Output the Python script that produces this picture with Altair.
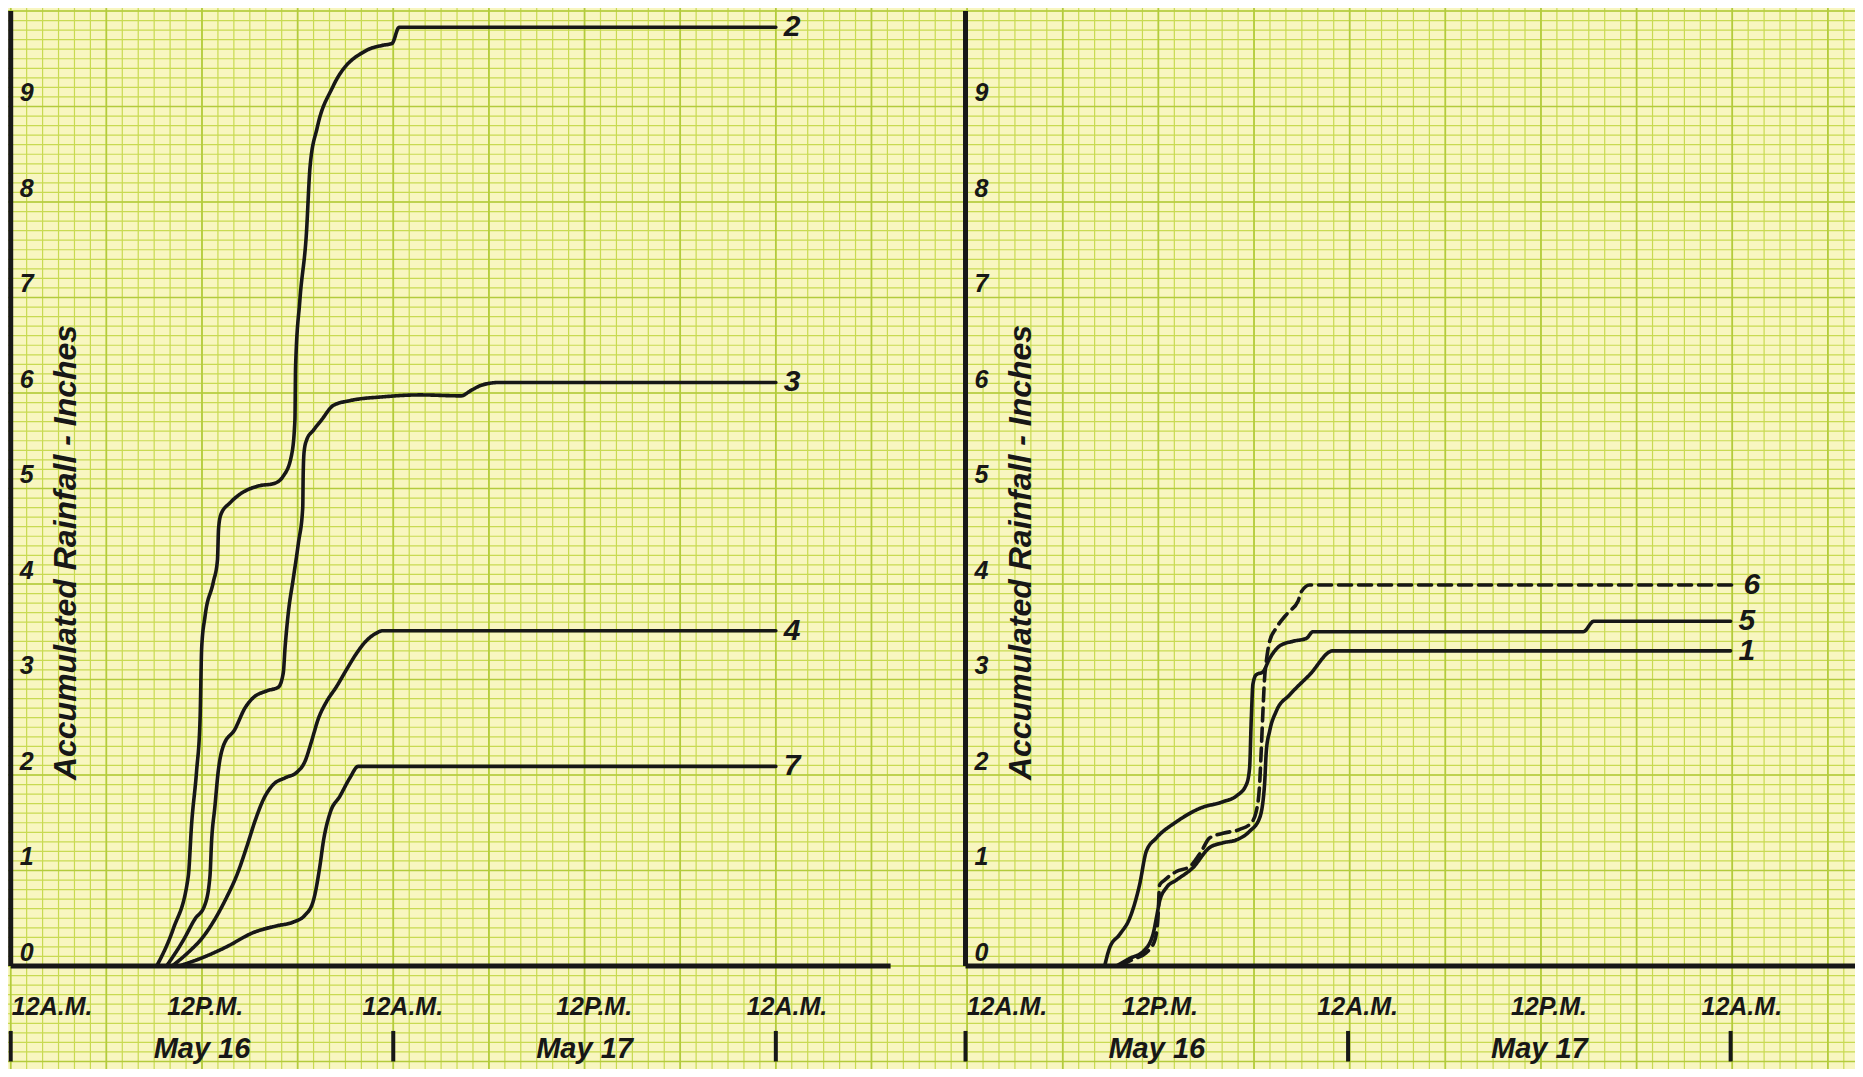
import altair as alt
import pandas as pd

# ---------------- data (hours after 12 A.M. May 16, accumulated rainfall in inches) ----------------
# left graph
s2_h = [9.16, 10.20, 11.14, 11.35, 11.66, 11.88, 11.98, 12.19, 12.71, 12.97, 13.04, 13.19, 13.76, 14.38, 15.64,
        16.48, 17.10, 17.62, 17.83, 17.87, 18.14, 18.55, 18.78, 19.23, 20.19, 22.35, 23.32, 23.92, 24.37, 48.0]
s2_v = [0.0, 0.39, 0.94, 1.49, 2.04, 2.59, 3.33, 3.66, 4.02, 4.25, 4.58, 4.73, 4.85, 4.94, 5.03,
        5.05, 5.13, 5.35, 5.72, 6.27, 6.97, 7.67, 8.37, 8.78, 9.20, 9.59, 9.64, 9.66, 9.83, 9.83]

s3_h = [9.78, 10.83, 11.55, 12.18, 12.50, 12.60, 12.81, 13.02, 13.33, 14.07, 14.69, 15.22, 16.05, 16.79, 17.10,
        17.21, 17.41, 17.73, 18.05, 18.32, 18.35, 18.41, 18.57, 18.99, 19.51, 20.24, 21.28, 23.37, 25.67, 28.24,
        28.91, 29.51, 30.63, 48.0]
s3_v = [0.0, 0.27, 0.49, 0.64, 0.94, 1.30, 1.67, 2.04, 2.30, 2.48, 2.70, 2.81, 2.88, 2.92, 3.07,
        3.33, 3.69, 4.06, 4.43, 4.80, 5.16, 5.39, 5.51, 5.61, 5.72, 5.87, 5.92, 5.96, 5.98, 5.97,
        6.03, 6.08, 6.11, 6.11]

s4_h = [10.13, 11.25, 12.0, 12.74, 13.49, 14.23, 14.83, 15.35, 15.87, 16.47, 17.21, 17.96, 18.48, 18.85, 19.30,
        19.82, 20.42, 21.09, 21.68, 22.28, 22.88, 23.32, 48.0]
s4_v = [0.0, 0.16, 0.29, 0.47, 0.70, 0.97, 1.26, 1.53, 1.75, 1.90, 1.97, 2.03, 2.15, 2.34, 2.59,
        2.77, 2.92, 3.11, 3.27, 3.40, 3.48, 3.51, 3.51]

s7_h = [10.58, 12.07, 13.53, 15.22, 16.68, 17.73, 18.45, 18.98, 19.40, 19.61, 20.03, 20.66, 21.28, 21.80, 48.0]
s7_v = [0.0, 0.09, 0.20, 0.35, 0.42, 0.46, 0.53, 0.68, 1.05, 1.30, 1.60, 1.78, 1.97, 2.09, 2.09]

# right graph
s5_h = [8.73, 9.04, 9.67, 10.30, 10.92, 11.34, 11.97, 13.23, 14.69, 16.15, 16.99, 17.62, 17.82, 17.93, 18.03,
        18.24, 18.66, 19.08, 19.70, 20.54, 21.38, 21.80, 38.75, 39.42, 48.0]
s5_v = [0.0, 0.19, 0.33, 0.50, 0.85, 1.20, 1.34, 1.51, 1.65, 1.72, 1.78, 1.90, 2.07, 2.60, 2.95,
        3.05, 3.08, 3.22, 3.35, 3.40, 3.43, 3.50, 3.50, 3.61, 3.61]

s1_h = [9.46, 10.30, 11.13, 11.76, 11.97, 12.18, 12.60, 13.23, 14.27, 15.31, 16.15, 16.99, 17.82, 18.45, 18.76,
        18.87, 19.08, 19.50, 20.34, 21.59, 23.05, 48.0]
s1_v = [0.0, 0.08, 0.15, 0.33, 0.50, 0.68, 0.82, 0.90, 1.03, 1.24, 1.29, 1.32, 1.41, 1.55, 1.90,
        2.25, 2.46, 2.67, 2.84, 3.05, 3.30, 3.30]

s6_h = [9.67, 10.51, 11.34, 11.86, 12.07, 12.18, 12.49, 13.23, 14.06, 14.79, 15.31, 16.15, 17.20, 17.93, 18.24,
        18.45, 18.55, 18.66, 18.76, 18.87, 19.08, 19.50, 20.23, 20.86, 21.07, 21.59, 48.3]
s6_v = [0.0, 0.07, 0.14, 0.26, 0.50, 0.85, 0.90, 0.99, 1.04, 1.20, 1.34, 1.39, 1.43, 1.50, 1.62,
        1.90, 2.25, 2.67, 3.01, 3.19, 3.40, 3.54, 3.70, 3.82, 3.92, 3.99, 3.99]

series_names = ["2", "3", "4", "7", "5", "1", "6"]
series_panels = ["left", "left", "left", "left", "right", "right", "right"]
series_styles = ["solid", "solid", "solid", "solid", "solid", "solid", "dashed"]
series_hours = [s2_h, s3_h, s4_h, s7_h, s5_h, s1_h, s6_h]
series_values = [s2_v, s3_v, s4_v, s7_v, s5_v, s1_v, s6_v]

y_tick_values = [0, 1, 2, 3, 4, 5, 6, 7, 8, 9]
time_labels = ["12A.M.", "12P.M.", "12A.M.", "12P.M.", "12A.M."]
time_label_hours = [2.6, 12.2, 24.6, 36.6, 48.7]
day_labels = ["May 16", "May 17"]
day_label_hours = [12, 36]
day_tick_hours = [0, 24, 48]
y_title = "Accumulated Rainfall - Inches"

# ---------------- layout ----------------
W, H = 1847, 1061
PX_H = 15.94      # px per hour
PX_IN = 95.5      # px per inch
X_MIN = -0.17
Y_TOP = 958 / PX_IN
x_dom = [X_MIN, X_MIN + W / PX_H]
y_dom = [Y_TOP - H / PX_IN, Y_TOP]
OFFSET = {"left": 0.0, "right": 59.9}
AXIS_END = {"left": 55.2, "right": 70.0}

PAPER = "#f8f6c0"
GRID_MINOR = "#c8da52"
GRID_MAJOR = "#b3cb3c"
INK = "#171717"
FONT = "Liberation Sans, Arial, sans-serif"

xs = alt.Scale(domain=x_dom, nice=False, zero=False)
ys = alt.Scale(domain=y_dom, nice=False, zero=False)
X = lambda f: alt.X(f, scale=xs, axis=None)
Y = lambda f: alt.Y(f, scale=ys, axis=None)

# ---------------- tables ----------------
rows = []
for name, panel, style, hs, vs in zip(series_names, series_panels, series_styles, series_hours, series_values):
    for i, (h, v) in enumerate(zip(hs, vs)):
        rows.append({"series": name, "panel": panel, "dash": style, "order": i,
                     "x": h + OFFSET[panel], "inches": v})
curves = pd.DataFrame(rows)

grid_v_minor = pd.DataFrame({"x": list(range(0, 117))})
grid_v_major = pd.DataFrame({"x": list(range(0, 117, 6))})
grid_h_minor = pd.DataFrame({"y": [i / 10 for i in range(-11, 102)]})
grid_h_major = pd.DataFrame({"y": list(range(-1, 11))})

panels = ["left", "right"]
yaxis_df = pd.DataFrame([{"x": OFFSET[p], "y": 0.0, "y2": 10.0} for p in panels])
xaxis_df = pd.DataFrame([{"x": OFFSET[p], "x2": OFFSET[p] + AXIS_END[p], "y": 0.0} for p in panels])
dtick_df = pd.DataFrame([{"x": OFFSET[p] + h, "y": -0.68, "y2": -1.0} for p in panels for h in day_tick_hours])

ytick_df = pd.DataFrame([{"x": OFFSET[p] + 1.0, "y": v + 0.14, "t": str(v)} for p in panels for v in y_tick_values])
time_df = pd.DataFrame([{"x": OFFSET[p] + h, "y": -0.43, "t": t}
                        for p in panels for h, t in zip(time_label_hours, time_labels)])
day_df = pd.DataFrame([{"x": OFFSET[p] + h, "y": -0.87, "t": t}
                       for p in panels for h, t in zip(day_label_hours, day_labels)])
title_df = pd.DataFrame([{"x": OFFSET[p] + 3.5, "y": 4.33, "t": y_title} for p in panels])
lab_rows = []
for name, panel, hs, vs in zip(series_names, series_panels, series_hours, series_values):
    lab_rows.append({"x": OFFSET[panel] + hs[-1] + 0.5, "y": vs[-1], "t": name})
lab_df = pd.DataFrame(lab_rows)

# ---------------- layers ----------------
g1 = alt.Chart(grid_v_minor).mark_rule(color=GRID_MINOR, strokeWidth=1.2).encode(x=X("x:Q"))
g2 = alt.Chart(grid_h_minor).mark_rule(color=GRID_MINOR, strokeWidth=1.2).encode(y=Y("y:Q"))
g3 = alt.Chart(grid_v_major).mark_rule(color=GRID_MAJOR, strokeWidth=1.7).encode(x=X("x:Q"))
g4 = alt.Chart(grid_h_major).mark_rule(color=GRID_MAJOR, strokeWidth=1.7).encode(y=Y("y:Q"))

ax_y = alt.Chart(yaxis_df).mark_rule(color=INK, strokeWidth=5).encode(x=X("x:Q"), y=Y("y:Q"), y2="y2:Q")
ax_x = alt.Chart(xaxis_df).mark_rule(color=INK, strokeWidth=5).encode(x=X("x:Q"), x2="x2:Q", y=Y("y:Q"))
ticks = alt.Chart(dtick_df).mark_rule(color=INK, strokeWidth=4).encode(x=X("x:Q"), y=Y("y:Q"), y2="y2:Q")

lines = alt.Chart(curves).mark_line(interpolate="monotone", color=INK, strokeWidth=3.6,
                                    strokeCap="round", strokeJoin="round").encode(
    x=X("x:Q"), y=Y("inches:Q"), detail="series:N", order="order:Q",
    strokeDash=alt.StrokeDash("dash:N", scale=alt.Scale(domain=["solid", "dashed"], range=[[1, 0], [13, 7]]),
                              legend=None))

t_ytick = alt.Chart(ytick_df).mark_text(font=FONT, fontSize=25, fontStyle="italic", fontWeight="bold",
                                        color=INK, align="center", baseline="middle").encode(
    x=X("x:Q"), y=Y("y:Q"), text="t:N")
t_time = alt.Chart(time_df).mark_text(font=FONT, fontSize=25, fontStyle="italic", fontWeight="bold",
                                      color=INK, align="center", baseline="middle").encode(
    x=X("x:Q"), y=Y("y:Q"), text="t:N")
t_day = alt.Chart(day_df).mark_text(font=FONT, fontSize=29, fontStyle="italic", fontWeight="bold",
                                    color=INK, align="center", baseline="middle").encode(
    x=X("x:Q"), y=Y("y:Q"), text="t:N")
t_title = alt.Chart(title_df).mark_text(font=FONT, fontSize=32, fontStyle="italic", fontWeight="bold",
                                        color=INK, align="center", baseline="middle", angle=270).encode(
    x=X("x:Q"), y=Y("y:Q"), text="t:N")
t_lab = alt.Chart(lab_df).mark_text(font=FONT, fontSize=30, fontStyle="italic", fontWeight="bold",
                                    color=INK, align="left", baseline="middle").encode(
    x=X("x:Q"), y=Y("y:Q"), text="t:N")

chart = alt.layer(g1, g2, g3, g4, ax_y, ax_x, ticks, lines, t_ytick, t_time, t_day, t_title, t_lab).properties(
    width=W, height=H, padding=0, background=PAPER,
    autosize=alt.AutoSizeParams(type="none"),
).configure_view(stroke=None)

chart.save("out.html", embed_options={"renderer": "svg", "actions": False})
